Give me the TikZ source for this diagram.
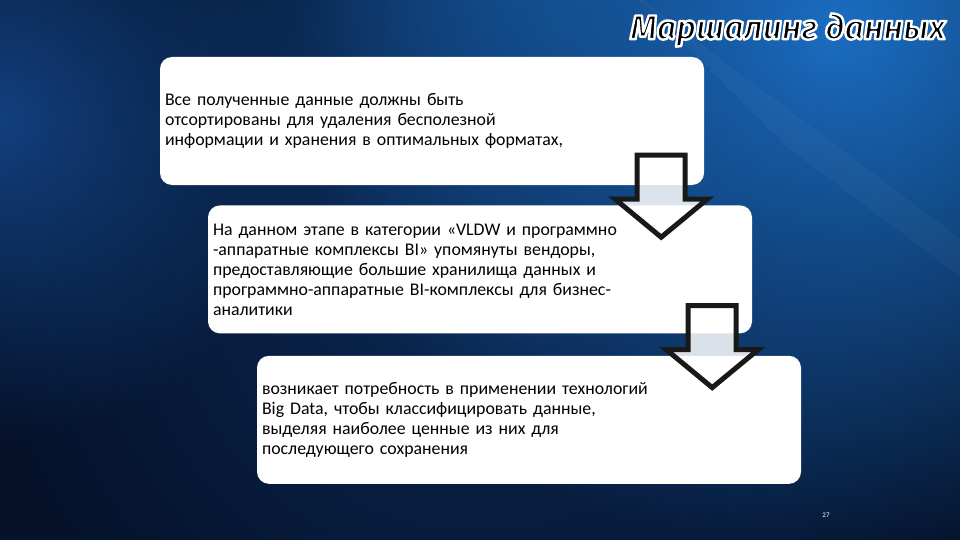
\documentclass[tikz,border=0pt]{standalone}
\usepackage{fontspec}
\setmainfont{Carlito}
\newfontfamily\titlefont{Fira Sans}
\usetikzlibrary{positioning,fadings}
\definecolor{navy}{HTML}{05122A}
\definecolor{glowblue}{HTML}{1C72C8}
\definecolor{leftblue}{HTML}{12407E}
\tikzfading[name=glowfade, inner color=transparent!0, outer color=transparent!100]
\newcommand{\outlinetext}[1]{\special{pdf:literal direct 1 1 1 RG 2.4 w 1 j 2 Tr}#1\special{pdf:literal direct 0 Tr}}
\tikzset{
    infobox/.style = {fill=white, rounded corners=12pt, text width=534pt, inner xsep=5pt, minimum height=128pt, align=left, font=\fontsize{17.8}{20}\selectfont},
    arrowline/.style = {draw=black!90, line width=5pt, fill=white, fill opacity=0.85, miter limit=10},
    downarrow/.pic = {\draw[arrowline] (-24,0) -- (24,0) -- (24,44) -- (46,44) -- (0,82) -- (-46,44) -- (-24,44) -- cycle;},
}

\begin{document}
\begin{tikzpicture}[x=1pt, y=-1pt]
% background
\useasboundingbox (0,0) rectangle (960,540);
\fill[navy] (0,0) rectangle (960,540);
\begin{scope}
\clip (0,0) rectangle (960,540);
\fill[glowblue, path fading=glowfade] (830,30) circle (540pt);
\fill[glowblue, path fading=glowfade, opacity=0.45] (520,-30) circle (380pt);
\fill[leftblue, path fading=glowfade] (0,120) circle (320pt);
\fill[leftblue, path fading=glowfade, opacity=0.5] (480,260) circle (500pt);
\foreach \s in {0,14,...,140}
    \draw[white, opacity=0.04, line width=2pt] (640+\s,0+\s) -- (960+\s,240+\s);
\end{scope}

% title
\node[black, font=\titlefont\bfseries\itshape\fontsize{34}{38}\selectfont] (title) at (788,30) {\outlinetext{Маршалинг данных}};

% boxes
\node[infobox] (box1) at (432,121) {Все полученные данные должны быть\\
отсортированы для удаления бесполезной\\
информации и хранения в оптимальных форматах,};
\node[infobox, below=20pt of box1, xshift=48pt] (box2) {На данном этапе в категории «VLDW и программно\\
-аппаратные комплексы BI» упомянуты вендоры,\\
предоставляющие большие хранилища данных и\\
программно-аппаратные BI-комплексы для бизнес-\\
аналитики};
\node[infobox, below=22pt of box2, xshift=49pt] (box3) {возникает потребность в применении технологий\\
Big Data, чтобы классифицировать данные,\\
выделяя наиболее ценные из них для\\
последующего сохранения};

% arrows
\pic at ([shift={(-43,-30)}]box1.south east) {downarrow};
\pic at ([shift={(-40,-28)}]box2.south east) {downarrow};

\node[white, font=\fontsize{7}{8}\selectfont] (page) at (826,515) {27};
\end{tikzpicture}
\end{document}
